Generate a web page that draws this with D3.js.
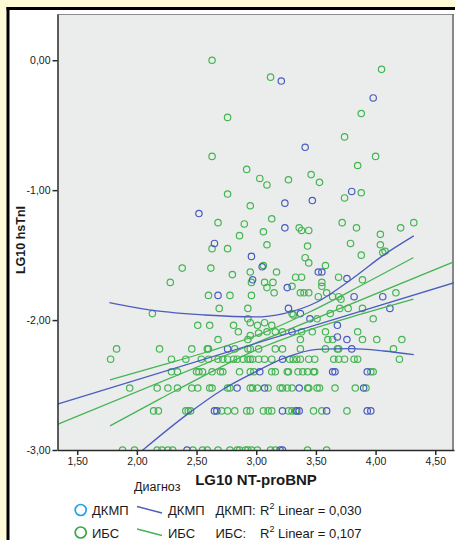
<!DOCTYPE html>
<html>
<head>
<meta charset="utf-8">
<title>LG10 hsTnI / LG10 NT-proBNP</title>
<script src="https://cdnjs.cloudflare.com/ajax/libs/d3/7.8.5/d3.min.js"></script>
<style>
  body { margin: 0; background: #fefbd6; }
  svg text { font-family: "Liberation Sans", Arial, sans-serif; fill: #1a1a1a; }
  .tick text { font-size: 10.5px; }
  .axis_title { font-weight: bold; }
  .legend_text { font-size: 13px; }
</style>
</head>
<body>
<svg id="chart" width="455" height="540"></svg>
<script>
// ---- data ----
var groups = ["ДКМП", "ИБС"];
var r2Labels = ["0,030", "0,107"];
var xTicks = [1.5, 2, 2.5, 3, 3.5, 4, 4.5];
var yTicks = [0, -1, -2, -3];

// ДКМП points [LG10 NT-proBNP, LG10 hsTnI]
var dkmpPoints = [
  [2.52,-1.18],[2.65,-1.41],[3.21,-0.16],[3.98,-0.29],[3.41,-0.67],[3.80,-1.01],[3.24,-1.10],
  [3.47,-1.08],[3.24,-1.29],[2.96,-1.51],[3.05,-1.59],[3.52,-1.63],[3.55,-1.63],[2.97,-1.69],
  [3.76,-1.68],[3.26,-1.75],[3.82,-1.82],[4.06,-1.82],[2.68,-1.81],[3.27,-1.91],[3.37,-1.95],
  [3.45,-1.99],[3.68,-2.04],[3.30,-2.09],[4.12,-1.91],[3.68,-2.13],[3.76,-2.15],[3.80,-2.222],
  [2.76,-2.222],[3.22,-2.301],[3.03,-2.398],[3.64,-2.398],[3.66,-2.398],[3.93,-2.398],
  [3.07,-2.523],[3.36,-2.523],[3.90,-2.523],[2.84,-2.523],[3.22,-2.699],[3.34,-2.699],
  [3.36,-2.699],[3.59,-2.699],[3.93,-2.699],[3.96,-2.699],[2.65,-2.699],[2.67,-2.699],
  [2.42,-3],[3.20,-3],[3.22,-3]
];

// ИБС points
var ibsPoints = [
  [2.63,0.00],[2.76,-0.44],[2.63,-0.74],[2.76,-1.03],[2.68,-1.25],[2.63,-1.45],[2.76,-1.45],
  [2.38,-1.60],[2.62,-1.60],[3.12,-0.13],[4.05,-0.07],[3.88,-0.41],[3.74,-0.59],[4.00,-0.74],
  [3.85,-0.81],[2.92,-0.84],[3.03,-0.91],[3.09,-0.96],[3.27,-0.92],[3.46,-0.88],[3.53,-0.94],
  [3.88,-1.02],[3.74,-1.06],[2.95,-1.12],[3.13,-1.22],[2.90,-1.26],[2.86,-1.35],[3.06,-1.32],
  [3.36,-1.29],[3.38,-1.31],[3.44,-1.31],[3.72,-1.25],[3.84,-1.29],[4.21,-1.29],[4.32,-1.25],
  [4.04,-1.34],[3.09,-1.42],[3.43,-1.43],[3.79,-1.41],[4.04,-1.42],[3.88,-1.50],[4.06,-1.48],
  [4.08,-1.47],[3.41,-1.52],[3.44,-1.56],[3.58,-1.58],[3.06,-1.58],[2.95,-1.63],[3.17,-1.63],
  [2.80,-1.65],[3.07,-1.71],[3.14,-1.71],[3.33,-1.67],[3.38,-1.67],[3.69,-1.67],[3.55,-1.71],
  [3.55,-1.74],[3.89,-1.69],[2.28,-1.71],[2.96,-1.71],[3.09,-1.75],[3.15,-1.79],[3.30,-1.74],
  [3.37,-1.79],[3.40,-1.79],[3.44,-1.79],[3.52,-1.82],[3.59,-1.79],[3.64,-1.82],[3.69,-1.82],
  [3.71,-1.84],[4.17,-1.79],[2.60,-1.81],[2.78,-1.81],[2.96,-1.81],[2.69,-1.91],[2.93,-1.91],
  [2.13,-1.95],[3.70,-1.91],[3.77,-1.91],[3.89,-1.91],[2.93,-1.99],[3.98,-1.99],[3.51,-1.99],
  [2.51,-2.04],[2.61,-2.04],[2.81,-2.04],[3.62,-1.95],[3.30,-1.95],[3.31,-1.96],[2.85,-2.09],
  [3.58,-2.09],[3.85,-2.09],[3.37,-2.15],[3.60,-2.15],[3.64,-2.15],[3.89,-2.15],[4.01,-2.15],
  [4.22,-2.15],[2.68,-2.15],[2.93,-2.15],[2.95,-2.12],[3.02,-2.10],[3.09,-2.09],[3.16,-2.09],
  [3.22,-2.09],[3.38,-2.09],[3.47,-2.09],[2.95,-2.02],[3.01,-2.04],[3.07,-2.02],[3.13,-2.04],
  [4.20,-2.301],
  [1.83,-2.222],[2.19,-2.222],[2.46,-2.222],[2.59,-2.222],[2.60,-2.222],[2.82,-2.222],
  [2.93,-2.222],[2.95,-2.222],[3.02,-2.222],[3.16,-2.222],[3.22,-2.222],[3.37,-2.222],
  [3.58,-2.222],[3.68,-2.222],[3.69,-2.222],[4.15,-2.222],
  [1.78,-2.301],[2.29,-2.301],[2.41,-2.301],[2.54,-2.301],[2.60,-2.301],[2.68,-2.301],
  [2.72,-2.301],[2.76,-2.301],[2.81,-2.301],[2.84,-2.301],[2.89,-2.301],[2.93,-2.301],
  [2.95,-2.301],[2.97,-2.301],[3.02,-2.301],[3.07,-2.301],[3.13,-2.301],[3.28,-2.301],
  [3.31,-2.301],[3.34,-2.301],[3.37,-2.301],[3.44,-2.301],[3.49,-2.301],[3.65,-2.301],
  [3.69,-2.301],[3.74,-2.301],[3.82,-2.301],[3.85,-2.301],
  [2.29,-2.398],[2.34,-2.398],[2.50,-2.398],[2.52,-2.398],[2.55,-2.398],[2.63,-2.398],
  [2.70,-2.398],[2.72,-2.398],[2.86,-2.398],[2.98,-2.398],[2.95,-2.398],[3.13,-2.398],
  [3.16,-2.398],[3.26,-2.398],[3.27,-2.398],[3.35,-2.398],[3.39,-2.398],[3.43,-2.398],
  [3.48,-2.398],[3.49,-2.398],[3.96,-2.398],[3.98,-2.398],
  [1.94,-2.523],[2.17,-2.523],[2.26,-2.523],[2.34,-2.523],[2.46,-2.523],[2.51,-2.523],
  [2.61,-2.523],[2.63,-2.523],[2.76,-2.523],[2.78,-2.523],[2.95,-2.523],[2.97,-2.523],
  [3.01,-2.523],[3.10,-2.523],[3.20,-2.523],[3.22,-2.523],[3.26,-2.523],[3.30,-2.523],
  [3.43,-2.523],[3.44,-2.523],[3.51,-2.523],[3.53,-2.523],[3.66,-2.523],[3.83,-2.523],
  [3.92,-2.523],
  [2.14,-2.699],[2.18,-2.699],[2.41,-2.699],[2.43,-2.699],[2.45,-2.699],[2.71,-2.699],
  [2.76,-2.699],[2.82,-2.699],[2.92,-2.699],[2.95,-2.699],[3.06,-2.699],[3.10,-2.699],
  [3.13,-2.699],[3.27,-2.699],[3.30,-2.699],[3.33,-2.699],[3.48,-2.699],[3.55,-2.699],
  [3.76,-2.699],
  [1.88,-3],[1.98,-3],[2.17,-3],[2.21,-3],[2.26,-3],[2.30,-3],[2.47,-3],[2.55,-3],[2.59,-3],
  [2.68,-3],[2.78,-3],[2.84,-3],[2.86,-3],[2.91,-3],[2.93,-3],[2.96,-3],[3.01,-3],[3.12,-3],
  [3.16,-3],[3.43,-3],[3.59,-3]
];

// fit lines and mean-CI curves
var dkmpFit = [[1.335,-2.646],[4.66,-1.712]];
var ibsFit  = [[1.335,-2.802],[4.66,-1.550]];
var dkmpUpper = [[1.77,-1.866],[2.15,-1.928],[2.57,-1.961],[2.99,-1.976],[3.23,-1.950],[3.51,-1.861],[3.79,-1.691],[4.07,-1.498],[4.32,-1.352]];
var dkmpLower = [[1.77,-3.22],[2.05,-3.0],[2.43,-2.72],[2.71,-2.54],[2.99,-2.40],[3.23,-2.295],[3.51,-2.225],[3.79,-2.220],[4.07,-2.238],[4.32,-2.266]];
var ibsUpper = [[1.775,-2.461],[2.194,-2.351],[2.613,-2.238],[3.032,-2.108],[3.451,-1.936],[3.870,-1.738],[4.317,-1.519]];
var ibsLower = [[1.775,-2.814],[2.194,-2.607],[2.613,-2.404],[3.032,-2.217],[3.451,-2.073],[3.870,-1.956],[4.317,-1.839]];

var blue = "#4b5cbf", green = "#45b553";

var svg = d3.select("#chart");
var W = 455, H = 540;

// panel with black frame
svg.append("rect").attr("x", 9).attr("y", 10).attr("width", W - 9).attr("height", H - 10).attr("fill", "white");
svg.append("line").attr("x1", 6.5).attr("x2", W).attr("y1", 8.5).attr("y2", 8.5).attr("stroke", "black").attr("stroke-width", 3);
svg.append("line").attr("x1", 8).attr("x2", 8).attr("y1", 7).attr("y2", H).attr("stroke", "black").attr("stroke-width", 3);

var plotLeft = 57.5, plotRight = 454, plotTop = 14, plotBottom = 450;
var x = d3.scaleLinear().domain([1.335, 4.657]).range([plotLeft, plotRight]);
var y = d3.scaleLinear().domain([-3, 0.356]).range([plotBottom, plotTop]);

var loc = d3.formatLocale({decimal: ",", thousands: " ", grouping: [3], currency: ["", ""], minus: "-"});
var fmt = loc.format(".2f");

svg.append("rect").attr("x", plotLeft).attr("y", plotTop)
  .attr("width", plotRight - plotLeft).attr("height", plotBottom - plotTop)
  .attr("fill", "#ebedec");
svg.append("line").attr("x1", plotLeft).attr("x2", plotRight).attr("y1", plotTop + 0.5).attr("y2", plotTop + 0.5)
  .attr("stroke", "#8a8a8a").attr("stroke-width", 1.2);
svg.append("line").attr("x1", plotRight - 1).attr("x2", plotRight - 1).attr("y1", plotTop).attr("y2", plotBottom)
  .attr("stroke", "#666").attr("stroke-width", 1.5);

svg.append("clipPath").attr("id", "plotclip").append("rect")
  .attr("x", plotLeft).attr("y", plotTop)
  .attr("width", plotRight - plotLeft).attr("height", plotBottom - plotTop);

var plot = svg.append("g").attr("clip-path", "url(#plotclip)");

function drawPoints(pts, color) {
  plot.append("g").selectAll("circle").data(pts).enter().append("circle")
    .attr("cx", function(d) { return x(d[0]); })
    .attr("cy", function(d) { return y(d[1]); })
    .attr("r", 3.2)
    .attr("fill", "none")
    .attr("stroke", color)
    .attr("stroke-width", 1.2);
}
drawPoints(ibsPoints, green);
drawPoints(dkmpPoints, blue);

var line = d3.line().x(function(d) { return x(d[0]); }).y(function(d) { return y(d[1]); });
var curve = d3.line().x(function(d) { return x(d[0]); }).y(function(d) { return y(d[1]); }).curve(d3.curveMonotoneX);

[[ibsFit, green, line], [ibsUpper, green, curve], [ibsLower, green, curve],
 [dkmpFit, blue, line], [dkmpUpper, blue, curve], [dkmpLower, blue, curve]].forEach(function(s) {
  plot.append("path").attr("d", s[2](s[0])).attr("fill", "none")
    .attr("stroke", s[1]).attr("stroke-width", 1.3);
});

// axes
var yAxis = svg.append("g").attr("transform", "translate(" + plotLeft + ",0)")
  .call(d3.axisLeft(y).tickValues(yTicks).tickFormat(fmt).tickSize(5).tickSizeOuter(0).tickPadding(2));
var xAxis = svg.append("g").attr("transform", "translate(0," + plotBottom + ")")
  .call(d3.axisBottom(x).tickValues(xTicks).tickFormat(fmt).tickSize(5).tickSizeOuter(0).tickPadding(3));
[yAxis, xAxis].forEach(function(a) {
  a.select(".domain").attr("stroke", "#2a2a2a").attr("stroke-width", 1.5);
  a.selectAll(".tick line").attr("stroke", "#2a2a2a").attr("stroke-width", 1.5);
  a.selectAll(".tick text").attr("fill", "#222");
});

svg.append("text").attr("class", "axis_title")
  .attr("transform", "translate(25,240) rotate(-90)")
  .attr("text-anchor", "middle").style("font-size", "12.5px")
  .text("LG10 hsTnI");
svg.append("text").attr("class", "axis_title")
  .attr("x", 256).attr("y", 485).attr("text-anchor", "middle").style("font-size", "15px")
  .text("LG10 NT-proBNP");

// legend
svg.append("text").attr("x", 134).attr("y", 491).style("font-size", "12.5px").text("Диагноз");

var legendDot = ["#1ea3ea", "#2eaa47"];
var legendLine = [blue, green];
var rowsY = [510, 532.5];
groups.forEach(function(g, i) {
  var cy = rowsY[i];
  svg.append("circle").attr("cx", 80.7).attr("cy", cy).attr("r", 5.5)
    .attr("fill", "none").attr("stroke", legendDot[i]).attr("stroke-width", 1.7);
  svg.append("text").attr("class", "legend_text").attr("x", 92).attr("y", cy + 5).text(g);
  svg.append("line").attr("x1", 137).attr("y1", cy - 3.5).attr("x2", 162).attr("y2", cy + 3)
    .attr("stroke", legendLine[i]).attr("stroke-width", 1.4);
  svg.append("text").attr("class", "legend_text").attr("x", 168).attr("y", cy + 5).text(g);
  svg.append("text").attr("class", "legend_text").attr("x", 215.5).attr("y", cy + 5).text(g + ":");
  var t = svg.append("text").attr("class", "legend_text").attr("x", 260).attr("y", cy + 5);
  t.append("tspan").text("R");
  t.append("tspan").attr("dy", -6).style("font-size", "9px").text("2");
  t.append("tspan").attr("dy", 6).text(" Linear = " + r2Labels[i]);
});
</script>
</body>
</html>
